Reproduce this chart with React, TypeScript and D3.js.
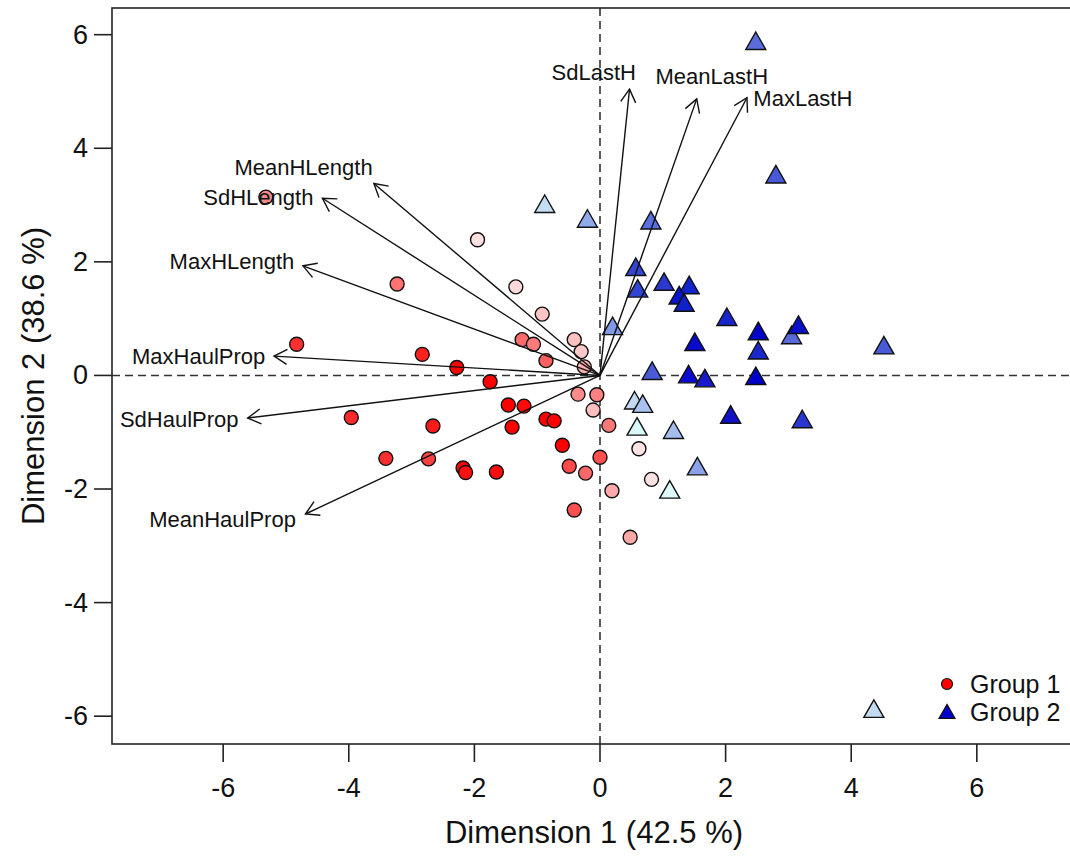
import * as d3 from "d3"

// group 1 (circles)
const g1X = [
  -5.32, -1.95, -3.23, -1.34, -0.92, -1.24, -1.06, -0.41, -0.3, -0.86, -0.25,
  -4.83, -2.83, -2.28, -1.75, -0.35, -0.05, -3.96, -2.66, -1.46, -1.21, -1.4,
  -0.86, -0.73, -0.11, -3.41, -2.73, -2.18, -2.14, -1.65, -0.6, -0.49, -0.23,
  -0.41, 0.0, 0.14, 0.62, 0.82, 0.19, 0.48,
]
const g1Y = [
  3.14, 2.39, 1.61, 1.56, 1.08, 0.63, 0.55, 0.63, 0.42, 0.26, 0.15, 0.55, 0.37,
  0.14, -0.11, -0.33, -0.34, -0.74, -0.89, -0.52, -0.54, -0.91, -0.77, -0.8,
  -0.61, -1.46, -1.47, -1.63, -1.71, -1.7, -1.23, -1.6, -1.72, -2.37, -1.44,
  -0.88, -1.29, -1.83, -2.03, -2.85,
]
const g1Fill = [
  "#f28b8b", "#ffe0e0", "#ff7373", "#ffdada", "#ffc4c4", "#ff6b6b", "#ff7b7b",
  "#ffc0c0", "#ffc8c8", "#ff6060", "#ffb0b0", "#ff3030", "#ff2020", "#ff0000",
  "#ff0000", "#ff8a8a", "#ff8080", "#ff2a2a", "#ff1a1a", "#ff0000", "#ff0a0a",
  "#ff0000", "#ff0000", "#ff0000", "#ffbfbf", "#ff2e2e", "#ff4040", "#ff0000",
  "#ff1010", "#ff0d0d", "#ff0000", "#ff4a4a", "#ff6868", "#ff5050", "#ff4f4f",
  "#ff7878", "#ffe2e2", "#ffe0e0", "#ffaaaa", "#ffa8a8",
]

// group 2 (triangles)
const g2X = [
  0.83, 1.41, 1.67, 2.48, 0.55, 0.68, 0.59, 1.17, 2.08, 3.22, 1.55, 1.11, 2.8,
  -0.2, 0.81, 0.57, 0.6, 1.02, 1.42, 1.26, 1.34, 0.2, 2.02, 2.52, 2.52, 1.51,
  3.05, 3.16, 4.52, -0.88, 2.48, 4.36,
]
const g2Y = [
  0.07, 0.01, -0.06, -0.02, -0.45, -0.51, -0.91, -0.97, -0.7, -0.78, -1.61,
  -2.02, 3.53, 2.75, 2.72, 1.9, 1.52, 1.64, 1.58, 1.4, 1.27, 0.86, 1.02, 0.77,
  0.43, 0.58, 0.7, 0.88, 0.52, 3.01, 5.88, -5.88,
]
const g2Fill = [
  "#4a5ad8", "#0a0acc", "#1a1acc", "#0000c8", "#c4daf2", "#a9c2f0", "#d9f8f8",
  "#a4bcee", "#1010c8", "#2a36d2", "#8ca2e8", "#ddfafa", "#4858d6", "#90aaec",
  "#5a70de", "#3646d4", "#3444d2", "#2a3ad0", "#1424cc", "#0a14c8", "#1020ca",
  "#8098e6", "#1a24cc", "#0000c8", "#1a28cc", "#0a0aca", "#5a6ad8", "#0a10c8",
  "#4a5ad6", "#c4dcf4", "#5a6cda", "#c4daf2",
]

// loading arrows
const varNames = [
  "SdLastH", "MeanLastH", "MaxLastH", "MeanHLength", "SdHLength", "MaxHLength",
  "MaxHaulProp", "SdHaulProp", "MeanHaulProp",
]
const varX = [0.47, 1.54, 2.34, -3.6, -4.42, -4.73, -5.19, -5.61, -4.69]
const varY = [5.04, 4.87, 4.89, 3.38, 3.12, 1.93, 0.34, -0.75, -2.44]
const labelX = [-0.1, 1.78, 3.23, -4.72, -5.44, -5.86, -6.39, -6.7, -6.01]
const labelY = [5.33, 5.27, 4.87, 3.67, 3.14, 2.0, 0.33, -0.78, -2.53]

const xTicks = [-6, -4, -2, 0, 2, 4, 6]
const yTicks = [-6, -4, -2, 0, 2, 4, 6]
const legendLabels = ["Group 1", "Group 2"]
const legendFill = ["#ff0000", "#0000cd"]

const W = 1070
const H = 856
const LEFT = 112
const TOP = 8
const BOTTOM = 744
const FONT = "'Liberation Sans', Arial, sans-serif"

const x = d3.scaleLinear().domain([-7.77, 7.77]).range([LEFT, 1088])
const y = d3.scaleLinear().domain([-6.49, 6.47]).range([BOTTOM, TOP])

const tri = (cx: number, cy: number, s: number) =>
  `M${cx},${cy - s * 0.95}L${cx + s},${cy + s * 0.8}L${cx - s},${cy + s * 0.8}Z`

const arrowHead = (x0: number, y0: number, x1: number, y1: number) => {
  const a = Math.atan2(y1 - y0, x1 - x0)
  const len = 15
  const spread = Math.PI / 6
  const p1 = [x1 - len * Math.cos(a - spread), y1 - len * Math.sin(a - spread)]
  const p2 = [x1 - len * Math.cos(a + spread), y1 - len * Math.sin(a + spread)]
  return `M${p1[0]},${p1[1]}L${x1},${y1}L${p2[0]},${p2[1]}`
}

const App = () => {
  const x0 = x(0)
  const y0 = y(0)
  return (
    <svg
      width={W}
      height={H}
      style={{ position: "absolute", left: 0, top: 0, background: "#fff" }}
      fontFamily={FONT}
    >
      <rect width={W} height={H} fill="#fff" />

      {/* reference lines */}
      <line x1={LEFT} x2={1088} y1={y0} y2={y0} stroke="#333" strokeWidth={1.6} strokeDasharray="8,5" />
      <line x1={x0} x2={x0} y1={TOP} y2={BOTTOM} stroke="#333" strokeWidth={1.6} strokeDasharray="8,5" />

      {/* points */}
      {g1X.map((d, i) => (
        <circle key={"c" + i} cx={x(d)} cy={y(g1Y[i])} r={7} fill={g1Fill[i]} stroke="#111" strokeWidth={1.4} />
      ))}
      {g2X.map((d, i) => (
        <path key={"t" + i} d={tri(x(d), y(g2Y[i]), 10)} fill={g2Fill[i]} stroke="#111" strokeWidth={1.4} />
      ))}

      {/* arrows */}
      {varX.map((d, i) => {
        const tx = x(d)
        const ty = y(varY[i])
        return (
          <g key={"a" + i} stroke="#111" strokeWidth={1.4} fill="none">
            <line x1={x0} y1={y0} x2={tx} y2={ty} />
            <path d={arrowHead(x0, y0, tx, ty)} />
          </g>
        )
      })}
      {varNames.map((n, i) => (
        <text key={"l" + i} x={x(labelX[i])} y={y(labelY[i])} textAnchor="middle" dominantBaseline="central" fontSize={22} fill="#111">
          {n}
        </text>
      ))}

      {/* frame */}
      <rect x={LEFT} y={TOP} width={1088 - LEFT} height={BOTTOM - TOP} fill="none" stroke="#222" strokeWidth={1.6} />

      {/* axes */}
      {xTicks.map((t) => (
        <g key={"xt" + t}>
          <line x1={x(t)} x2={x(t)} y1={BOTTOM} y2={BOTTOM + 18} stroke="#222" strokeWidth={1.6} />
          <text x={x(t)} y={788} textAnchor="middle" dominantBaseline="central" fontSize={27} fill="#111">
            {t}
          </text>
        </g>
      ))}
      {yTicks.map((t) => (
        <g key={"yt" + t}>
          <line x1={LEFT - 18} x2={LEFT} y1={y(t)} y2={y(t)} stroke="#222" strokeWidth={1.6} />
          <text x={88} y={y(t)} textAnchor="end" dominantBaseline="central" fontSize={27} fill="#111">
            {t}
          </text>
        </g>
      ))}
      <text x={594} y={832} textAnchor="middle" dominantBaseline="central" fontSize={31} fill="#111">
        Dimension 1 (42.5 %)
      </text>
      <text
        transform={`translate(33,376) rotate(-90)`}
        textAnchor="middle"
        dominantBaseline="central"
        fontSize={31}
        fill="#111"
      >
        Dimension 2 (38.6 %)
      </text>

      {/* legend */}
      {legendLabels.map((l, i) => {
        const ly = 684 + i * 28
        return (
          <g key={"lg" + i}>
            {i === 0 ? (
              <circle cx={947} cy={ly} r={5.5} fill={legendFill[i]} stroke="#111" strokeWidth={1.2} />
            ) : (
              <path d={tri(947, ly, 8)} fill={legendFill[i]} stroke="#111" strokeWidth={1.2} />
            )}
            <text x={970} y={ly} dominantBaseline="central" fontSize={25} fill="#111">
              {l}
            </text>
          </g>
        )
      })}
    </svg>
  )
}

export default App
